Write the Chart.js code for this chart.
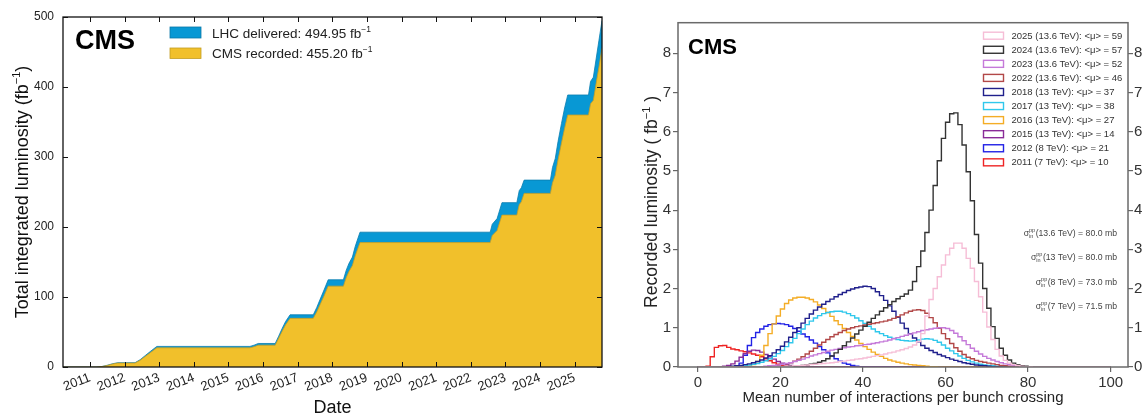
<!DOCTYPE html>
<html>
<head>
<meta charset="utf-8">
<title>CMS luminosity and pileup</title>
<script src="https://cdn.jsdelivr.net/npm/chart.js@4.4.1/dist/chart.umd.min.js"></script>
<style>
  html, body { margin: 0; padding: 0; background: #ffffff; }
  #wrap { position: relative; width: 1146px; height: 414px; overflow: hidden; }
  .panel { position: absolute; top: 0; height: 414px; }
  #lumiBox { left: 0; width: 620px; }
  #puBox { left: 620px; width: 526px; }
</style>
</head>
<body>
<div id="wrap">
  <div class="panel" id="lumiBox"><canvas id="lumi"></canvas></div>
  <div class="panel" id="puBox"><canvas id="pileup"></canvas></div>
</div>
<script>
// ---------- Integrated luminosity vs. date (decimal years) ----------
const lumiYears = [2010.22, 2011.20, 2011.35, 2011.50, 2011.65, 2011.80, 2012.30, 2012.45, 2012.60, 2012.75,
  2012.93, 2015.62, 2015.74, 2015.86, 2016.35, 2016.45, 2016.55, 2016.65, 2016.78, 2017.45,
  2017.55, 2017.65, 2017.76, 2017.88, 2018.32, 2018.40, 2018.48, 2018.58, 2018.66, 2018.72,
  2018.80, 2022.56, 2022.62, 2022.76, 2022.90, 2023.33, 2023.40, 2023.46, 2023.54, 2024.30,
  2024.36, 2024.44, 2024.52, 2024.62, 2024.71, 2024.80, 2025.40, 2025.46, 2025.54, 2025.62,
  2025.70, 2025.79];
const lhcDelivered = [0, 0, 0.8, 2.5, 4.6, 6.1, 6.1, 10.5, 16.5, 22.5,
  29.4, 29.4, 31.2, 33.6, 33.6, 44, 55, 65, 74.6, 74.6,
  85, 97, 110, 124.6, 124.6, 138, 148, 157, 172, 181,
  192.6, 192.6, 204, 212, 234.8, 234.8, 252, 256, 267, 267,
  285, 298, 322, 348, 370, 388.6, 388.6, 408, 414, 440,
  466, 494.95];
const cmsRecorded = [0, 0, 0.7, 2.2, 4.2, 5.6, 5.6, 9.7, 15.2, 20.8,
  27.4, 27.4, 29, 31.2, 31.2, 41, 51, 60.3, 69.5, 69.5,
  78.7, 89.5, 101.5, 115.5, 115.5, 127.5, 136.5, 145, 158.5, 167,
  177.8, 177.8, 188, 195, 217, 217, 232, 236, 248, 248,
  263, 274, 296, 320, 341, 360, 360, 376, 381, 405,
  428, 455.2];
const yearTicks = [2011, 2012, 2013, 2014, 2015, 2016, 2017, 2018, 2019, 2020, 2021, 2022, 2023, 2024, 2025];
const lumiTicks = [0, 100, 200, 300, 400, 500];

// ---------- Pileup distributions (1-unit bins, values in fb^-1) ----------
const pu2025Start = 18;
const pu2025 = [0.01,0.01,0.01,0.02,0.02,0.03,0.03,0.04,0.05,0.06, 0.07,0.08,0.09,0.1,0.11,0.12,0.14,0.15,0.17,0.18,
  0.2,0.21,0.23,0.25,0.27,0.29,0.31,0.33,0.36,0.38, 0.41,0.44,0.47,0.51,0.56,0.65,0.85,1.3,1.72,2.0,
  2.3,2.6,2.86,3.03,3.16,3.16,3.03,2.77,2.52,2.18, 1.79,1.4,1.02,0.7,0.45,0.28,0.17,0.1,0.06,0.04, 0.02,0.01,0.01];
const pu2024Start = 20;
const pu2024 = [0.01,0.01,0.02,0.02,0.03,0.04,0.05,0.07,0.09,0.12, 0.16,0.21,0.28,0.36,0.45,0.54,0.64,0.74,0.84,0.94,
  1.04,1.14,1.24,1.33,1.42,1.51,1.59,1.67,1.74,1.8, 1.86,1.96,2.18,2.56,2.96,3.43,4.0,4.63,5.26,5.83,
  6.24,6.46,6.48,6.18,5.66,4.98,4.24,3.38,2.65,2.0, 1.5,1.03,0.73,0.48,0.3,0.18,0.1,0.06,0.03,0.02, 0.01];
const pu2023Start = 14;
const pu2023 = [0.01,0.01,0.02,0.03,0.04,0.05,0.07,0.09,0.11,0.14, 0.17,0.2,0.24,0.28,0.31,0.34,0.37,0.4,0.43,0.45,
  0.47,0.49,0.51,0.52,0.54,0.55,0.57,0.58,0.6,0.62, 0.64,0.66,0.69,0.72,0.75,0.78,0.81,0.84,0.87,0.9,
  0.93,0.95,0.97,0.99,1.0,1.0,0.98,0.93,0.86,0.77, 0.67,0.57,0.48,0.4,0.33,0.27,0.22,0.18,0.14,0.11,
  0.08,0.06,0.04,0.03,0.02,0.01,0.01];
const pu2022Start = 15;
const pu2022 = [0.01,0.01,0.02,0.03,0.04,0.06,0.08,0.11,0.15,0.2, 0.26,0.33,0.4,0.48,0.56,0.63,0.7,0.77,0.83,0.88,
  0.93,0.97,1.0,1.03,1.05,1.07,1.09,1.11,1.13,1.15, 1.17,1.2,1.24,1.28,1.33,1.38,1.42,1.45,1.46,1.44,
  1.37,1.26,1.13,0.99,0.85,0.72,0.6,0.49,0.4,0.32, 0.25,0.21,0.17,0.14,0.12,0.1,0.08,0.06,0.04,0.03,
  0.02,0.01,0.01];
const pu2018Start = 6;
const pu2018 = [0.005,0.01,0.02,0.03,0.04,0.06,0.08,0.11,0.14,0.18, 0.23,0.29,0.36,0.44,0.53,0.64,0.76,0.88,1.0,1.12,
  1.24,1.35,1.45,1.53,1.6,1.67,1.73,1.79,1.85,1.9, 1.95,1.99,2.02,2.04,2.06,2.05,2.0,1.92,1.82,1.7,
  1.56,1.42,1.27,1.12,0.98,0.85,0.74,0.64,0.55,0.48, 0.42,0.37,0.32,0.28,0.24,0.2,0.17,0.14,0.11,0.09,
  0.07,0.05,0.04,0.03,0.02,0.01,0.01];
const pu2017Start = 8;
const pu2017 = [0.01,0.02,0.03,0.04,0.05,0.07,0.09,0.12,0.16,0.21, 0.27,0.34,0.42,0.52,0.62,0.73,0.85,0.97,1.08,1.17,
  1.25,1.31,1.36,1.39,1.41,1.42,1.42,1.4,1.36,1.31, 1.25,1.18,1.11,1.04,0.97,0.9,0.85,0.8,0.76,0.73,
  0.7,0.68,0.67,0.66,0.67,0.69,0.71,0.72,0.71,0.68, 0.63,0.56,0.48,0.41,0.34,0.28,0.22,0.17,0.13,0.1,
  0.07,0.05,0.04,0.03,0.02,0.01,0.01];
const pu2016Start = 12;
const pu2016 = [0.02,0.06,0.14,0.3,0.55,0.85,1.1,1.3,1.48,1.62, 1.71,1.76,1.78,1.78,1.76,1.72,1.66,1.58,1.49,1.39,
  1.29,1.18,1.08,0.98,0.88,0.78,0.69,0.6,0.52,0.45, 0.38,0.32,0.27,0.22,0.18,0.15,0.12,0.1,0.08,0.06,
  0.05,0.04,0.03,0.02,0.01,0.01];
const pu2015Start = 5;
const pu2015 = [0.01,0.02,0.04,0.08,0.15,0.25,0.34,0.4,0.43,0.42, 0.38,0.32,0.26,0.2,0.14,0.1,0.06,0.04,0.02,0.01];
const pu2012Start = 8;
const pu2012 = [0.01,0.03,0.1,0.3,0.55,0.75,0.88,0.97,1.04,1.08, 1.1,1.11,1.1,1.08,1.04,0.98,0.91,0.84,0.77,0.69,
  0.61,0.52,0.44,0.36,0.28,0.21,0.15,0.1,0.07,0.04, 0.02,0.01];
const pu2011Start = 2;
const pu2011 = [0.02,0.26,0.5,0.54,0.55,0.5,0.46,0.44,0.41,0.39, 0.36,0.33,0.3,0.26,0.21,0.16,0.11,0.07,0.04,0.02, 0.01];

const puLabels = ['2025 (13.6 TeV): <\u03bc> = 59', '2024 (13.6 TeV): <\u03bc> = 57', '2023 (13.6 TeV): <\u03bc> = 52',
  '2022 (13.6 TeV): <\u03bc> = 46', '2018 (13 TeV): <\u03bc> = 37', '2017 (13 TeV): <\u03bc> = 38',
  '2016 (13 TeV): <\u03bc> = 27', '2015 (13 TeV): <\u03bc> = 14', '2012 (8 TeV): <\u03bc> = 21', '2011 (7 TeV): <\u03bc> = 10'];
const puColors = ['#f6bdd6', '#333333', '#c57ad9', '#b24848', '#20208c', '#30c8ec', '#f4ad26', '#8a2c98', '#2222e6', '#ee2424'];
const puValues = [pu2025, pu2024, pu2023, pu2022, pu2018, pu2017, pu2016, pu2015, pu2012, pu2011];
const puStarts = [pu2025Start, pu2024Start, pu2023Start, pu2022Start, pu2018Start, pu2017Start, pu2016Start, pu2015Start, pu2012Start, pu2011Start];
const muTicks = [0, 20, 40, 60, 80, 100];
const puTicks = [0, 1, 2, 3, 4, 5, 6, 7, 8];
const sigmaEnergies = ['13.6 TeV', '13 TeV', '8 TeV', '7 TeV'];
const sigmaValues = ['80.0', '80.0', '73.0', '71.5'];

const FONT = '"Liberation Sans", Arial, Helvetica, sans-serif';
Chart.defaults.font.family = FONT;

const BLUE = '#0898d4';
const YELLOW = '#f1c02b';

// draws a row of text runs (different sizes / offsets) starting from an anchor
function drawRich(ctx, parts, x, y, align) {
  let total = 0;
  parts.forEach(p => { ctx.font = p.font; p.w = ctx.measureText(p.text).width; total += p.w; });
  let cx = align === 'center' ? x - total / 2 : (align === 'right' ? x - total : x);
  ctx.textAlign = 'left';
  ctx.textBaseline = 'alphabetic';
  parts.forEach(p => { ctx.font = p.font; ctx.fillText(p.text, cx, y + (p.dy || 0)); cx += p.w; });
}

// ---------- left panel decorations ----------
const lumiDecor = {
  id: 'lumiDecor',
  afterDraw(chart) {
    const ctx = chart.ctx;
    const a = chart.chartArea;
    const xs = chart.scales.x, ys = chart.scales.y;
    ctx.save();
    ctx.strokeStyle = '#111';
    ctx.lineWidth = 1.3;
    ctx.strokeRect(a.left, a.top, a.right - a.left, a.bottom - a.top);
    // inward tick marks on all four sides
    ctx.lineWidth = 1;
    ctx.beginPath();
    yearTicks.forEach(v => {
      const px = Math.round(xs.getPixelForValue(v)) + 0.5;
      ctx.moveTo(px, a.bottom); ctx.lineTo(px, a.bottom - 5);
      ctx.moveTo(px, a.top); ctx.lineTo(px, a.top + 5);
    });
    lumiTicks.forEach(v => {
      const py = Math.round(ys.getPixelForValue(v)) + 0.5;
      ctx.moveTo(a.left, py); ctx.lineTo(a.left + 5, py);
      ctx.moveTo(a.right, py); ctx.lineTo(a.right - 5, py);
    });
    ctx.stroke();

    // experiment label
    ctx.fillStyle = '#000';
    ctx.font = 'bold 27px ' + FONT;
    ctx.textAlign = 'left';
    ctx.textBaseline = 'alphabetic';
    ctx.fillText('CMS', a.left + 12, 49);

    // legend
    const lx = 170, lw = 31;
    ctx.fillStyle = BLUE; ctx.fillRect(lx, 27, lw, 11);
    ctx.strokeStyle = '#0a78a8'; ctx.lineWidth = 0.8; ctx.strokeRect(lx, 27, lw, 11);
    ctx.fillStyle = YELLOW; ctx.fillRect(lx, 48, lw, 10.5);
    ctx.strokeStyle = '#c49d22'; ctx.strokeRect(lx, 48, lw, 10.5);
    ctx.fillStyle = '#222';
    const f = '13.5px ' + FONT, fs = '8.5px ' + FONT;
    drawRich(ctx, [{ text: 'LHC delivered: ' + lhcDelivered[lhcDelivered.length - 1].toFixed(2) + ' fb', font: f },
                   { text: '\u22121', font: fs, dy: -6 }], 212, 38, 'left');
    drawRich(ctx, [{ text: 'CMS recorded: ' + cmsRecorded[cmsRecorded.length - 1].toFixed(2) + ' fb', font: f },
                   { text: '\u22121', font: fs, dy: -6 }], 212, 58, 'left');

    // axis titles
    ctx.fillStyle = '#111';
    drawRich(ctx, [{ text: 'Date', font: '18px ' + FONT }], (a.left + a.right) / 2, 413, 'center');
    ctx.translate(28, (a.top + a.bottom) / 2);
    ctx.rotate(-Math.PI / 2);
    drawRich(ctx, [{ text: 'Total integrated luminosity (fb', font: '18px ' + FONT },
                   { text: '\u22121', font: '11px ' + FONT, dy: -8 },
                   { text: ')', font: '18px ' + FONT }], 0, 0, 'center');
    ctx.restore();
  }
};

new Chart(document.getElementById('lumi'), {
  type: 'line',
  data: {
    datasets: [
      { label: 'CMS recorded', data: lumiYears.map((x, i) => ({ x, y: cmsRecorded[i] })),
        backgroundColor: YELLOW, borderColor: '#c7a024', borderWidth: 0.8, fill: 'origin', pointRadius: 0, tension: 0 },
      { label: 'LHC delivered', data: lumiYears.map((x, i) => ({ x, y: lhcDelivered[i] })),
        backgroundColor: BLUE, borderColor: '#0a7db0', borderWidth: 0.8, fill: 'origin', pointRadius: 0, tension: 0 }
    ]
  },
  options: {
    responsive: true, maintainAspectRatio: false, animation: false,
    layout: { padding: { top: 17, right: 18, left: 0, bottom: 0 } },
    plugins: { legend: { display: false }, tooltip: { enabled: false } },
    scales: {
      x: {
        type: 'linear', min: 2010.22, max: 2025.79,
        afterBuildTicks: s => { s.ticks = yearTicks.map(v => ({ value: v })); },
        afterFit: s => { s.height = 47; },
        grid: { display: false, drawTicks: false }, border: { display: false },
        ticks: { minRotation: 21, maxRotation: 21, autoSkip: false, padding: 3, color: '#222',
                 font: { size: 13 }, callback: v => String(v) }
      },
      y: {
        type: 'linear', min: 0, max: 500,
        afterBuildTicks: s => { s.ticks = lumiTicks.map(v => ({ value: v })); },
        afterFit: s => { s.width = 63; },
        grid: { display: false, drawTicks: false }, border: { display: false },
        ticks: { padding: 9, color: '#222', font: { size: 12 }, callback: v => String(v) }
      }
    }
  },
  plugins: [lumiDecor]
});

// ---------- right panel: pileup histograms ----------
function histPoints(start, values) {
  const pts = [];
  for (let b = 0; b <= 100; b++) {
    const i = b - start;
    pts.push({ x: b, y: (i >= 0 && i < values.length) ? values[i] : 0 });
  }
  return pts;
}

function drawSigma(ctx, rightX, baseY, energy, value) {
  const main = '(' + energy + ') = ' + value + ' mb';
  const big = '8.7px ' + FONT, small = '5.5px ' + FONT;
  ctx.font = big;
  const wMain = ctx.measureText(main).width, wSig = ctx.measureText('\u03c3').width;
  ctx.font = small;
  const wScr = Math.max(ctx.measureText('pp').width, ctx.measureText('in').width) + 0.5;
  const x0 = rightX - wMain - wScr - wSig;
  ctx.textAlign = 'left';
  ctx.textBaseline = 'alphabetic';
  ctx.font = big; ctx.fillText('\u03c3', x0, baseY);
  ctx.font = small; ctx.fillText('pp', x0 + wSig, baseY - 4); ctx.fillText('in', x0 + wSig, baseY + 1.5);
  ctx.font = big; ctx.fillText(main, rightX - wMain, baseY);
}

const puDecor = {
  id: 'puDecor',
  afterDraw(chart) {
    const ctx = chart.ctx;
    const a = chart.chartArea;
    ctx.save();
    ctx.strokeStyle = '#6a6a6a';
    ctx.lineWidth = 1.5;
    ctx.strokeRect(a.left, a.top, a.right - a.left, a.bottom - a.top);

    ctx.fillStyle = '#000';
    ctx.font = 'bold 22px ' + FONT;
    ctx.textAlign = 'left';
    ctx.textBaseline = 'alphabetic';
    ctx.fillText('CMS', a.left + 10, 54);

    // legend of the years
    ctx.font = '9.5px ' + FONT;
    ctx.textBaseline = 'middle';
    puLabels.forEach((lab, i) => {
      const cy = 35.7 + 14.07 * i;
      ctx.strokeStyle = puColors[i];
      ctx.lineWidth = 1.4;
      ctx.strokeRect(363.5, cy - 3.5, 20, 7);
      ctx.fillStyle = '#333';
      ctx.fillText(lab, 391.5, cy + 0.5);
    });

    // inelastic cross sections
    ctx.fillStyle = '#444';
    const ys = [236, 260, 285, 309];
    sigmaEnergies.forEach((e, i) => drawSigma(ctx, 497, ys[i], e, sigmaValues[i]));

    // axis titles
    ctx.fillStyle = '#222';
    drawRich(ctx, [{ text: 'Mean number of interactions per bunch crossing', font: '15px ' + FONT }],
             (a.left + a.right) / 2, 402, 'center');
    ctx.translate(37, 202);
    ctx.rotate(-Math.PI / 2);
    drawRich(ctx, [{ text: 'Recorded luminosity ( fb', font: '17.5px ' + FONT },
                   { text: '\u22121', font: '11px ' + FONT, dy: -7.5 },
                   { text: ' )', font: '17.5px ' + FONT }], 0, 0, 'center');
    ctx.restore();
  }
};

const puGrid = { display: true, drawOnChartArea: false, drawTicks: true, tickLength: 5, color: '#666', lineWidth: 1.2 };

new Chart(document.getElementById('pileup'), {
  type: 'line',
  data: {
    datasets: puLabels.map((lab, i) => ({
      label: lab, data: histPoints(puStarts[i], puValues[i]),
      borderColor: puColors[i], borderWidth: 1.4, stepped: 'before',
      pointRadius: 0, fill: false, yAxisID: 'y'
    }))
  },
  options: {
    responsive: true, maintainAspectRatio: false, animation: false,
    layout: { padding: { top: 22.7, right: 0, left: 0, bottom: 0 } },
    plugins: { legend: { display: false }, tooltip: { enabled: false } },
    scales: {
      x: {
        type: 'linear', min: -4.8, max: 104.2,
        afterBuildTicks: s => { s.ticks = muTicks.map(v => ({ value: v })); },
        afterFit: s => { s.height = 47; },
        grid: puGrid, border: { display: false },
        ticks: { padding: 2, color: '#333', font: { size: 15 }, maxRotation: 0, autoSkip: false }
      },
      y: {
        type: 'linear', position: 'left', min: 0, max: 8.78,
        afterBuildTicks: s => { s.ticks = puTicks.map(v => ({ value: v })); },
        afterFit: s => { s.width = 58; },
        grid: puGrid, border: { display: false },
        ticks: { padding: 2, color: '#333', font: { size: 15 } }
      },
      y2: {
        type: 'linear', position: 'right', min: 0, max: 8.78,
        afterBuildTicks: s => { s.ticks = puTicks.map(v => ({ value: v })); },
        afterFit: s => { s.width = 18; },
        grid: puGrid, border: { display: false },
        ticks: { padding: 1, color: '#333', font: { size: 15 } }
      }
    }
  },
  plugins: [puDecor]
});
</script>
</body>
</html>
